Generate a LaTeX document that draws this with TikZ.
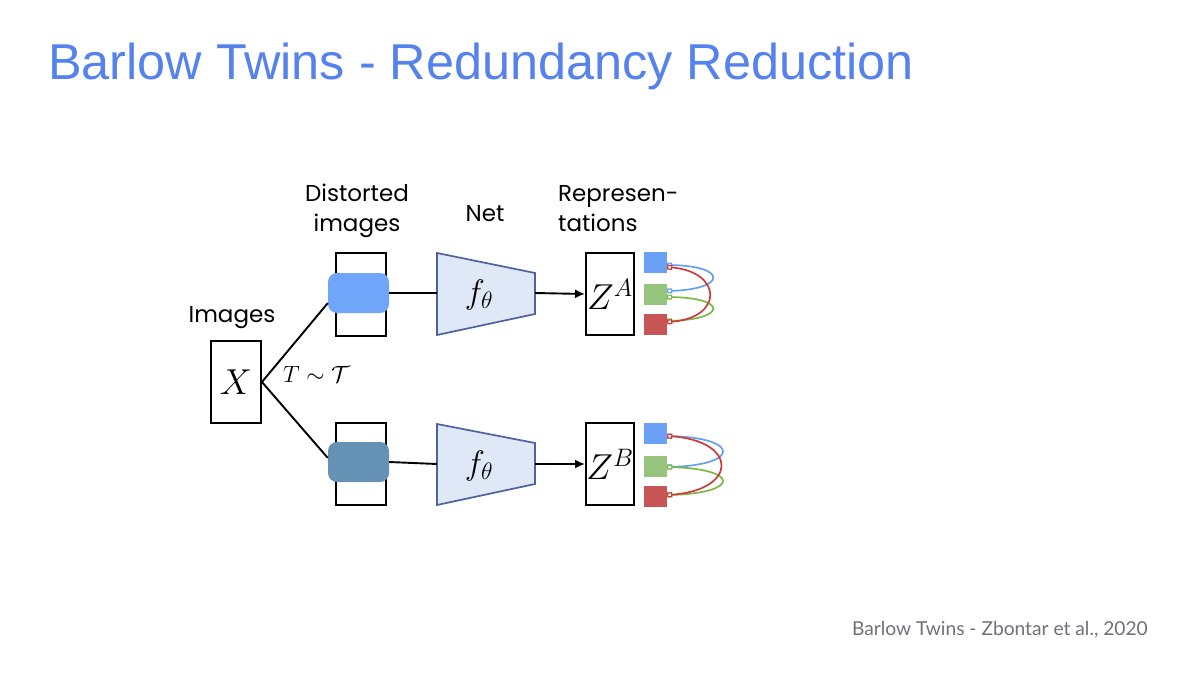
\RequirePackage{fix-cm}
\documentclass[tikz,border=0pt]{standalone}
\usepackage[no-math]{fontspec}
\newfontfamily\titlefont{Liberation Sans}
\newfontfamily\labelfont{Poppins}
\newfontfamily\footfont{Lato}
\usetikzlibrary{arrows.meta,calc}
\definecolor{titleblue}{RGB}{86,130,238}
\definecolor{distA}{RGB}{112,166,250}
\definecolor{distB}{RGB}{100,145,180}
\definecolor{trapfill}{RGB}{222,232,246}
\definecolor{trapline}{RGB}{78,98,160}
\definecolor{sqblue}{RGB}{106,160,246}
\definecolor{sqgreen}{RGB}{150,196,125}
\definecolor{sqred}{RGB}{200,85,85}
\definecolor{cblue}{RGB}{100,160,240}
\definecolor{cgreen}{RGB}{125,185,70}
\definecolor{cred}{RGB}{205,60,60}
\definecolor{footgray}{RGB}{112,112,122}
\tikzset{
  box/.style={draw=black, line width=1.9pt, fill=white, inner sep=0pt},
  mathbig/.style={font=\fontsize{36}{40}\selectfont},
  lab/.style={font=\labelfont\fontsize{23}{30}\selectfont, inner sep=0pt},
  distort/.style={rounded corners=9pt, inner sep=0pt, minimum width=61pt, minimum height=40pt},
  conn/.style={line width=1.9pt, draw=black},
  trap/.style={draw=trapline, fill=trapfill, line width=1.7pt, line join=miter},
  sq/.style={inner sep=0pt, minimum width=23pt, minimum height=21pt},
  corr/.style={line width=1.7pt, {Square[length=5pt,width=5pt,fill=white,line width=1.2pt]}-{Square[length=5pt,width=5pt,fill=white,line width=1.2pt]}},
}
\begin{document}
\begin{tikzpicture}[x=1pt,y=-1pt]
\useasboundingbox (0,0) rectangle (1200,675);
\fill[white] (0,0) rectangle (1200,675);

% title
\node[anchor=base west, inner sep=0pt, text=titleblue, font=\titlefont\fontsize{50.4}{56}\selectfont] (title) at (48,79.3) {Barlow Twins - Redundancy Reduction};

% labels
\node[lab, anchor=base] (limages) at (232,322) {Images};
\node[lab, anchor=base, align=center] (ldist) at (357,231) {Distorted\\images};
\node[lab, anchor=base] (lnet) at (485,221) {Net};
\node[lab, anchor=base west, align=left] (lrep) at (558,231) {Represen-\\tations};

% input image
\node[box, mathbig, minimum width=50pt, minimum height=82pt] (X) at (236,382) {$X$};
\node[anchor=base west, inner sep=0pt, font=\fontsize{23.5}{28}\selectfont] (T) at (283,382) {$T\sim\mathcal{T}$};

% distorted images
\node[box, minimum width=50pt, minimum height=83pt] (DA) at (361,294.5) {};
\node[distort, fill=distA] (dA) at (358.5,293) {};
\node[box, minimum width=50pt, minimum height=82pt] (DB) at (361,464) {};
\node[distort, fill=distB] (dB) at (358.5,462) {};

\draw[conn] (X.east) -- ($(dA.south west)!0.25!(dA.north west)$);
\draw[conn] (X.east) -- ($(dB.south west)!0.6!(dB.north west)$);

% networks
\draw[trap] (437,253) -- (535,273) -- (535,314) -- (437,335) -- cycle;
\coordinate (fAw) at (437,293);
\coordinate (fAe) at (535,293);
\node[inner sep=0pt, font=\fontsize{34}{38}\selectfont] (fA) at (479,295) {$f_\theta$};
\draw[trap] (437,424) -- (535,443) -- (535,484) -- (437,505) -- cycle;
\coordinate (fBw) at (437,464);
\coordinate (fBe) at (535,464);
\node[inner sep=0pt, font=\fontsize{34}{38}\selectfont] (fB) at (479,466) {$f_\theta$};

\draw[conn] (dA.east) -- (fAw);
\draw[conn] (dB.east) -- (fBw);

% representations
\node[box, mathbig, minimum width=48pt, minimum height=82pt] (ZA) at (610,294) {$Z^A$};
\node[box, mathbig, minimum width=48pt, minimum height=82pt] (ZB) at (610,464) {$Z^B$};
\draw[conn, -{Latex[length=10pt,width=9pt]}] (fAe) -- (ZA.west);
\draw[conn, -{Latex[length=10pt,width=9pt]}] (fBe) -- (ZB.west);

% feature squares
\node[sq, fill=sqblue] (sa1) at (655.5,262) {};
\node[sq, fill=sqgreen] (sa2) at (655.5,294.5) {};
\node[sq, fill=sqred] (sa3) at (655.5,324.5) {};
\node[sq, fill=sqblue] (sb1) at (655.5,433.5) {};
\node[sq, fill=sqgreen] (sb2) at (655.5,466) {};
\node[sq, fill=sqred] (sb3) at (655.5,496) {};

% correlations top
\draw[corr, draw=cblue] ([yshift=-3pt]sa1.east) .. controls +(60,1) and +(60,-2) .. ([yshift=3.5pt]sa2.east);
\draw[corr, draw=cgreen] ([yshift=-2.5pt]sa2.east) .. controls +(60,1) and +(60,-2) .. ([yshift=3.5pt]sa3.east);
\draw[corr, draw=cred] ([yshift=-5pt]sa1.east) .. controls +(56,5) and +(56,-4) .. ([yshift=2.5pt]sa3.east);

% correlations bottom
\draw[corr, draw=cblue] ([yshift=-2.5pt]sb1.east) .. controls +(73,2) and +(73,-2) .. ([yshift=-1pt]sb2.east);
\draw[corr, draw=cgreen] ([yshift=-1pt]sb2.east) .. controls +(73,2) and +(73,-2) .. ([yshift=1pt]sb3.east);
\draw[corr, draw=cred] ([yshift=-2.5pt]sb1.east) .. controls +(71,5) and +(71,-5) .. ([yshift=1pt]sb3.east);

% footnote
\node[anchor=base east, inner sep=0pt, text=footgray, font=\footfont\fontsize{19.2}{24}\selectfont] (foot) at (1148,635) {Barlow Twins - Zbontar et al., 2020};
\end{tikzpicture}
\end{document}
